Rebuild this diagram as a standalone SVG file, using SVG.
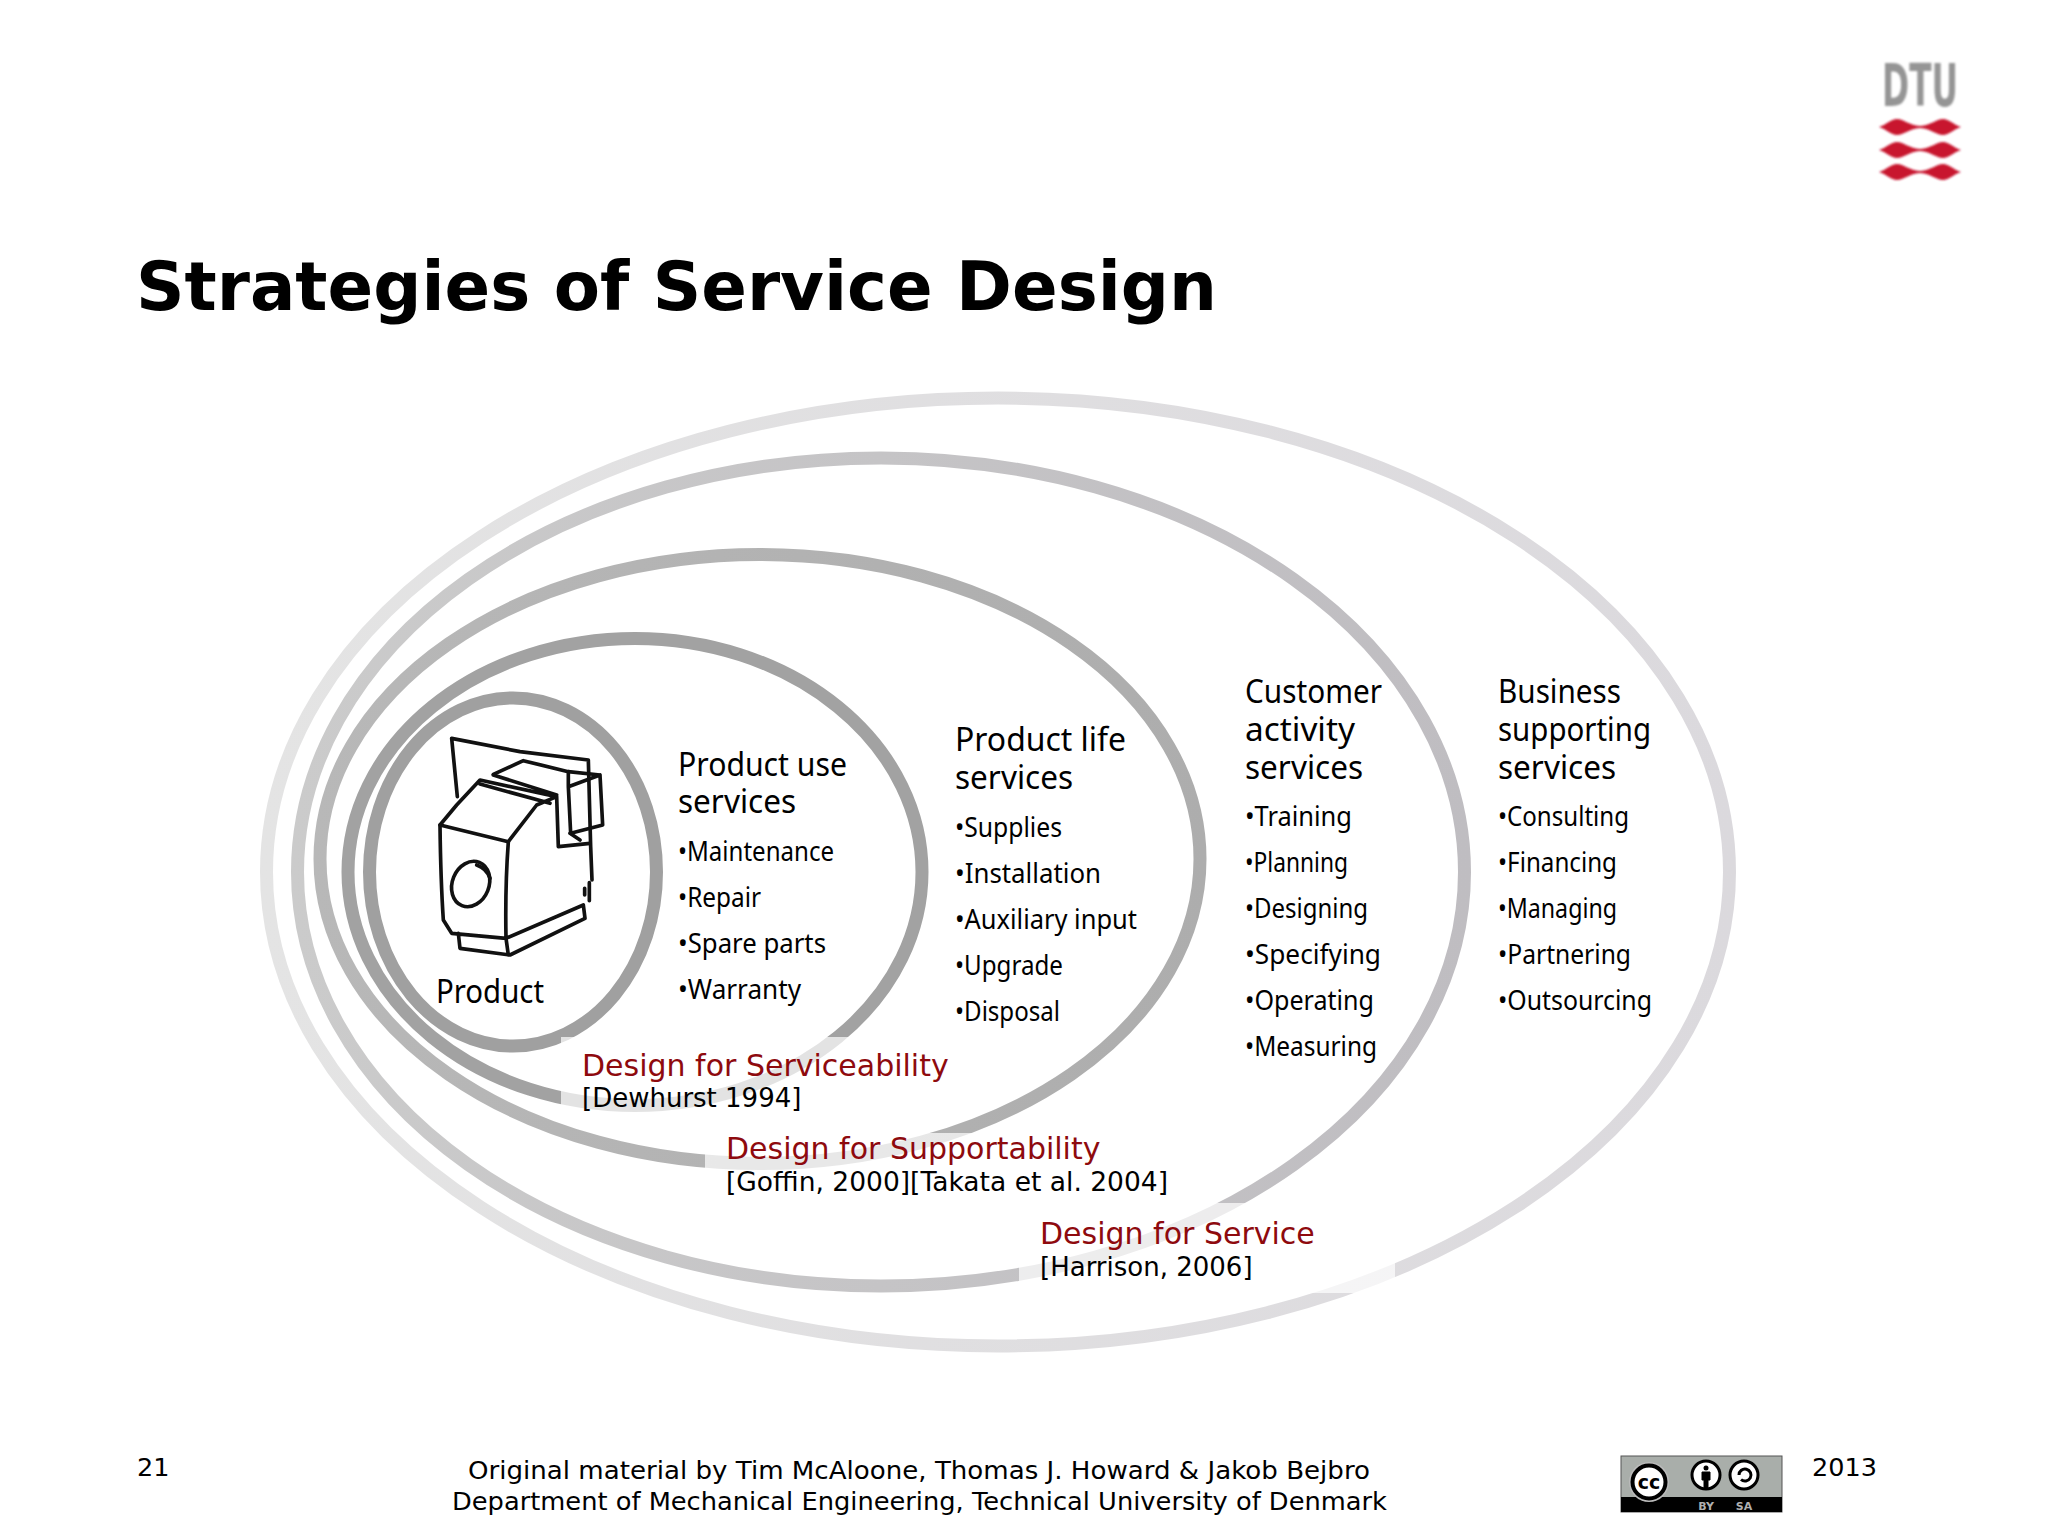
<svg xmlns="http://www.w3.org/2000/svg" width="2048" height="1536" viewBox="0 0 2048 1536">
<style>
.t{font-family:"DejaVu Sans","Liberation Sans",sans-serif;fill:#000}
.c{font-family:"Noto Sans","Open Sans",sans-serif;fill:#000;font-size:27px}
.h{font-size:32px}
.r{font-family:"DejaVu Sans",sans-serif;fill:#8e0a0e;font-size:30px}
.b{font-family:"DejaVu Sans",sans-serif;fill:#000;font-size:26px}
.f{font-family:"DejaVu Sans",sans-serif;fill:#000;font-size:25.500px}
.ring{fill:none;stroke-width:13}
.sk{fill:none;stroke:#111;stroke-width:11;stroke-linecap:round;stroke-linejoin:round}
.fade{fill:#fff;fill-opacity:.7}
.w{fill:#c8142f}
</style>
<defs>
<linearGradient id="g5" gradientUnits="userSpaceOnUse" x1="260" y1="0" x2="1736" y2="0"><stop offset="0" stop-color="#e4e4e4"/><stop offset="1" stop-color="#dbd9dd"/></linearGradient>
<linearGradient id="g4" gradientUnits="userSpaceOnUse" x1="291" y1="0" x2="1471" y2="0"><stop offset="0" stop-color="#cbcbcb"/><stop offset="1" stop-color="#bfbdc1"/></linearGradient>
<linearGradient id="g3" gradientUnits="userSpaceOnUse" x1="313" y1="0" x2="1206" y2="0"><stop offset="0" stop-color="#b8b8b8"/><stop offset="1" stop-color="#adadad"/></linearGradient>
<filter id="soft" x="-10%" y="-10%" width="120%" height="120%"><feGaussianBlur stdDeviation="1.100"/></filter>
<path id="wave" d="M1879 0C1886 -2 1891 -8 1897 -8C1904 -8 1908 -2 1920 -1C1932 -2 1936 -8 1943 -8C1949 -8 1954 -2 1961 0C1954 2 1949 8 1943 8C1936 8 1932 2 1920 1C1908 2 1904 8 1897 8C1891 8 1886 2 1879 0Z"/>
</defs>
<rect width="2048" height="1536" fill="#fff"/>
<g id="logo" filter="url(#soft)">
<text x="1920" y="106" text-anchor="middle" font-family="DejaVu Sans Condensed,DejaVu Sans,sans-serif" font-weight="700" font-size="58" fill="#959595" textLength="76" lengthAdjust="spacingAndGlyphs">DTU</text>
<use class="w" href="#wave" y="127"/>
<use class="w" href="#wave" y="150"/>
<use class="w" href="#wave" y="172"/>
</g>
<text id="title" class="t" x="136" y="310" font-size="68" font-weight="700" textLength="1081" lengthAdjust="spacingAndGlyphs">Strategies of Service Design</text>
<g id="rings">
<ellipse id="ring5" class="ring" cx="998" cy="872" rx="731.500" ry="474" stroke="url(#g5)"/>
<ellipse id="ring4" class="ring" cx="881" cy="872" rx="583.500" ry="414" stroke="url(#g4)"/>
<ellipse id="ring3" class="ring" cx="760" cy="859" rx="440" ry="304.500" stroke="url(#g3)"/>
<ellipse id="ring2" class="ring" cx="635" cy="872" rx="287" ry="233.500" stroke="#a2a2a2"/>
<ellipse id="ring1" class="ring" cx="513" cy="872" rx="143.500" ry="174" stroke="#a0a0a0"/>
<rect class="fade" x="561" y="1037" width="400" height="80"/>
<rect class="fade" x="705" y="1133" width="480" height="50"/>
<rect class="fade" x="1019" y="1203" width="376" height="90"/>
</g>
<g id="product" transform="translate(380 680) scale(.33333)">
<path class="sk" d="M215 175L420 215L625 240L632 500L636 600M215 175L232 350"/>
<path class="sk" d="M340 283L430 242L565 275L660 285L668 435L572 460L565 320L660 285M565 275L565 320"/>
<path class="sk" d="M180 435L230 375L300 300L530 350L470 375L385 485ZM300 312L510 370M340 285L530 345M530 350L535 500L630 490M570 460L600 480"/>
<path class="sk" d="M180 435Q182 600 190 720L215 760L378 775M385 485Q375 620 378 775L385 825M378 775L610 675L615 715L390 825L240 805L235 760"/>
<ellipse class="sk" cx="272" cy="612" rx="55" ry="70" transform="rotate(22 272 612)"/>
<path class="sk" d="M290 555Q320 565 330 595" stroke-width="6"/>
<path class="sk" d="M628 608V662M614 625V645" stroke-width="6"/>
</g>
<g id="product-label"><text class="c h" x="436" y="1003" textLength="108" lengthAdjust="spacingAndGlyphs">Product</text></g>
<g id="use-services">
<text class="c h" x="678" y="776" textLength="169" lengthAdjust="spacingAndGlyphs">Product use</text><text class="c h" x="678" y="813" textLength="118" lengthAdjust="spacingAndGlyphs">services</text>
<text class="c" x="678" y="861" textLength="156" lengthAdjust="spacingAndGlyphs">•Maintenance</text><text class="c" x="678" y="907" textLength="83" lengthAdjust="spacingAndGlyphs">•Repair</text><text class="c" x="678" y="953" textLength="148" lengthAdjust="spacingAndGlyphs">•Spare parts</text><text class="c" x="678" y="999" textLength="123" lengthAdjust="spacingAndGlyphs">•Warranty</text>
</g>
<g id="life-services">
<text class="c h" x="955" y="751" textLength="171" lengthAdjust="spacingAndGlyphs">Product life</text><text class="c h" x="955" y="789" textLength="118" lengthAdjust="spacingAndGlyphs">services</text>
<text class="c" x="955" y="837" textLength="107" lengthAdjust="spacingAndGlyphs">•Supplies</text><text class="c" x="955" y="883" textLength="146" lengthAdjust="spacingAndGlyphs">•Installation</text><text class="c" x="955" y="929" textLength="182" lengthAdjust="spacingAndGlyphs">•Auxiliary input</text><text class="c" x="955" y="975" textLength="108" lengthAdjust="spacingAndGlyphs">•Upgrade</text><text class="c" x="955" y="1021" textLength="105" lengthAdjust="spacingAndGlyphs">•Disposal</text>
</g>
<g id="customer-services">
<text class="c h" x="1245" y="703" textLength="137" lengthAdjust="spacingAndGlyphs">Customer</text><text class="c h" x="1245" y="741" textLength="110" lengthAdjust="spacingAndGlyphs">activity</text><text class="c h" x="1245" y="779" textLength="118" lengthAdjust="spacingAndGlyphs">services</text>
<text class="c" x="1245" y="826" textLength="107" lengthAdjust="spacingAndGlyphs">•Training</text><text class="c" x="1245" y="872" textLength="103" lengthAdjust="spacingAndGlyphs">•Planning</text><text class="c" x="1245" y="918" textLength="123" lengthAdjust="spacingAndGlyphs">•Designing</text><text class="c" x="1245" y="964" textLength="136" lengthAdjust="spacingAndGlyphs">•Specifying</text><text class="c" x="1245" y="1010" textLength="129" lengthAdjust="spacingAndGlyphs">•Operating</text><text class="c" x="1245" y="1056" textLength="132" lengthAdjust="spacingAndGlyphs">•Measuring</text>
</g>
<g id="business-services">
<text class="c h" x="1498" y="703" textLength="123" lengthAdjust="spacingAndGlyphs">Business</text><text class="c h" x="1498" y="741" textLength="153" lengthAdjust="spacingAndGlyphs">supporting</text><text class="c h" x="1498" y="779" textLength="118" lengthAdjust="spacingAndGlyphs">services</text>
<text class="c" x="1498" y="826" textLength="131" lengthAdjust="spacingAndGlyphs">•Consulting</text><text class="c" x="1498" y="872" textLength="119" lengthAdjust="spacingAndGlyphs">•Financing</text><text class="c" x="1498" y="918" textLength="119" lengthAdjust="spacingAndGlyphs">•Managing</text><text class="c" x="1498" y="964" textLength="133" lengthAdjust="spacingAndGlyphs">•Partnering</text><text class="c" x="1498" y="1010" textLength="154" lengthAdjust="spacingAndGlyphs">•Outsourcing</text>
</g>
<g id="dfs1"><text class="r" x="582" y="1076">Design for Serviceability</text><text class="b" x="582" y="1107">[Dewhurst 1994]</text></g>
<g id="dfs2"><text class="r" x="726" y="1159">Design for Supportability</text><text class="b" x="726" y="1191" textLength="442" lengthAdjust="spacingAndGlyphs">[Goffin, 2000][Takata et al. 2004]</text></g>
<g id="dfs3"><text class="r" x="1040" y="1244">Design for Service</text><text class="b" x="1040" y="1276">[Harrison, 2006]</text></g>
<g id="footer">
<text class="f" x="137" y="1476">21</text>
<text class="f" x="468" y="1479" textLength="902" lengthAdjust="spacingAndGlyphs">Original material by Tim McAloone, Thomas J. Howard &amp; Jakob Bejbro</text>
<text class="f" x="452" y="1510" textLength="935" lengthAdjust="spacingAndGlyphs">Department of Mechanical Engineering, Technical University of Denmark</text>
<text class="f" x="1812" y="1476">2013</text>
</g>
<g id="cc">
<rect x="1621" y="1456" width="161" height="56" fill="#a9aeaa" stroke="#555" stroke-width="1"/>
<rect x="1621" y="1497" width="161" height="15" fill="#000"/>
<circle cx="1649" cy="1482" r="20" fill="#bbb"/>
<circle cx="1649" cy="1482" r="16.500" fill="#fff" stroke="#000" stroke-width="4"/>
<text x="1649" y="1489" text-anchor="middle" font-family="DejaVu Sans,sans-serif" font-weight="700" font-size="19" fill="#000">cc</text>
<circle cx="1706" cy="1475" r="14" fill="#fff" stroke="#000" stroke-width="3"/>
<path d="M1702 1472h8v8h-2v8h-4v-8h-2z" fill="#000" stroke="#000" stroke-width="1"/><circle cx="1706" cy="1468" r="2.500"/>
<circle cx="1744" cy="1475" r="14" fill="#fff" stroke="#000" stroke-width="3"/>
<path d="M1739 1475a6 6 0 1 1 2 4.500" fill="none" stroke="#000" stroke-width="3"/>
<text x="1706" y="1510" text-anchor="middle" font-family="DejaVu Sans,sans-serif" font-weight="700" font-size="11" fill="#b0b0b0">BY</text>
<text x="1744" y="1510" text-anchor="middle" font-family="DejaVu Sans,sans-serif" font-weight="700" font-size="11" fill="#b0b0b0">SA</text>
</g>
</svg>
